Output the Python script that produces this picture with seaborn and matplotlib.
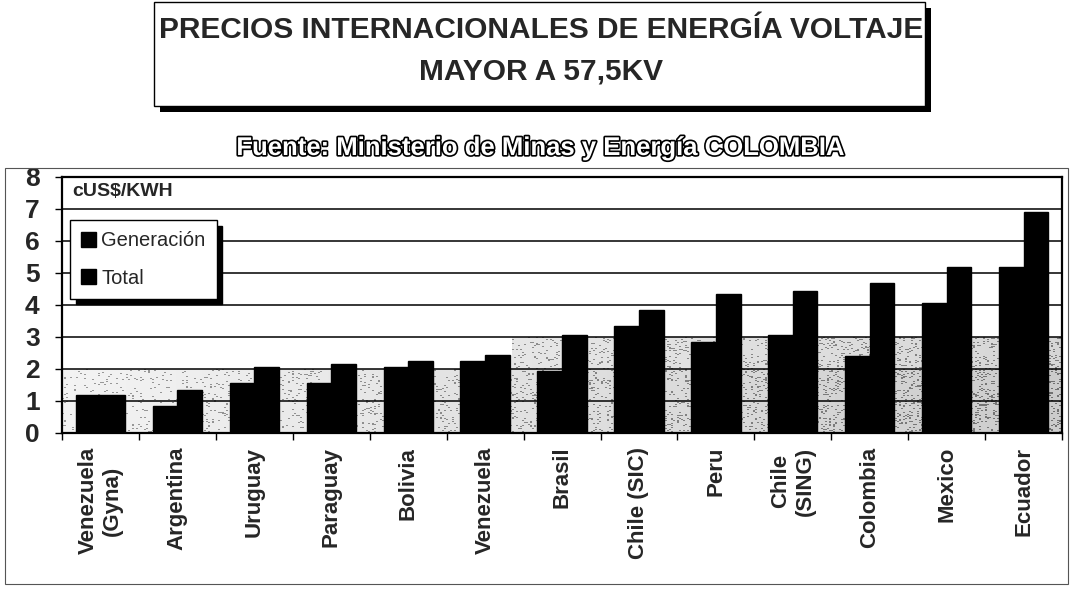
import numpy as np
import pandas as pd
import matplotlib
matplotlib.use("Agg")
import matplotlib.pyplot as plt
import matplotlib.patheffects as pe
from matplotlib.patches import Rectangle
import seaborn as sns

paises = ["Venezuela\n(Gyna)", "Argentina", "Uruguay", "Paraguay", "Bolivia",
          "Venezuela", "Brasil", "Chile (SIC)", "Peru", "Chile\n(SING)",
          "Colombia", "Mexico", "Ecuador"]
generacion = [1.2, 0.85, 1.55, 1.55, 2.05, 2.25, 1.95, 3.35, 2.85, 3.05, 2.4, 4.05, 5.2]
total = [1.2, 1.35, 2.05, 2.15, 2.25, 2.45, 3.05, 3.85, 4.35, 4.45, 4.7, 5.2, 6.9]
series = ["Generación", "Total"]

df = pd.DataFrame({
    "pais": paises * 2,
    "serie": [series[0]] * len(paises) + [series[1]] * len(paises),
    "valor": generacion + total,
})

sns.set_theme(style="white")
plt.rcParams["font.family"] = ["Liberation Sans", "DejaVu Sans"]

fig = plt.figure(figsize=(10.72, 5.89), dpi=100)
ax = fig.add_axes([0.0578, 0.265, 0.933, 0.4345])

# stippled gray background, darker towards the bottom right
n = len(paises)
xs = np.linspace(0, 1, 500)
ys = np.linspace(0, 8, 400)
X, Y = np.meshgrid(xs, ys)
limite = 2.0 + 1.0 * (X > 0.45)
dark = np.where(Y < limite, 0.07 + 0.16 * X + 0.06 * X * (Y < 2), 0.0)
rng = np.random.default_rng(3)
speckle = rng.random(dark.shape) < dark * 0.6
fondo = 1 - dark * 0.7 - speckle * 0.35
ax.imshow(fondo, extent=(-0.5, n - 0.5, 0, 8), origin="lower", cmap="gray",
          vmin=0, vmax=1, aspect="auto", zorder=0, interpolation="nearest")

sns.barplot(data=df, x="pais", y="valor", hue="serie", palette=["black", "black"],
            width=0.64, gap=0, edgecolor="black", ax=ax, zorder=3, saturation=1)

ax.set_xlim(-0.5, n - 0.5)
ax.set_ylim(0, 8)
ax.set_yticks(range(0, 9))
ax.set_yticklabels([str(i) for i in range(0, 9)], fontsize=19, fontweight="bold")
ax.set_xticks(range(n))
ax.set_xticklabels(paises, rotation=90, fontsize=16, fontweight="bold", va="top", ha="center")
ax.set_xticks(np.arange(-0.5, n), minor=True)
ax.tick_params(axis="x", which="major", length=0, pad=10)
ax.tick_params(axis="x", which="minor", length=5, width=1, color="black", direction="out", bottom=True)
ax.tick_params(axis="y", length=5, width=1, color="black", direction="out", left=True, pad=11)
ax.set_xlabel("")
ax.set_ylabel("")
for y in range(1, 8):
    ax.axhline(y, color="black", lw=1.1, zorder=1)
for s in ax.spines.values():
    s.set_color("black")
    s.set_linewidth(1.6)

ax.text(0.01, 0.975, "cUS$/KWH", transform=ax.transAxes, fontsize=14,
        fontweight="bold", va="top", ha="left", zorder=5)

leg = ax.legend(loc="upper left", bbox_to_anchor=(0.0, 0.862), fontsize=14.5,
                frameon=True, fancybox=False, edgecolor="black", framealpha=1,
                handlelength=0.75, handleheight=0.75, handletextpad=0.25,
                labelspacing=0.9, borderpad=0.55, borderaxespad=0.4,
                shadow={"color": "black", "alpha": 1, "ox": 4, "oy": -4})
leg.set_zorder(6)

# title box with shadow
W, H = 1072, 589
def box(x0, y0, x1, y1, **kw):
    return Rectangle((x0 / W, 1 - y1 / H), (x1 - x0) / W, (y1 - y0) / H,
                     transform=fig.transFigure, **kw)
fig.patches.append(box(160, 8, 931, 112, facecolor="black", edgecolor="none"))
fig.patches.append(box(154, 2, 925, 106, facecolor="white", edgecolor="black", lw=1))
fig.text(0.5045, 1 - 30 / H, "PRECIOS INTERNACIONALES DE ENERGÍA VOLTAJE",
         fontsize=21.5, fontweight="bold", ha="center", va="center")
fig.text(0.5045, 1 - 72 / H, "MAYOR A 57,5KV",
         fontsize=21.5, fontweight="bold", ha="center", va="center")

fig.text(0.505, 1 - 148 / H, "Fuente: Ministerio de Minas y Energía COLOMBIA",
         fontsize=18.5, fontweight="bold", ha="center", va="center", color="white",
         path_effects=[pe.withStroke(linewidth=2.4, foreground="black")])

# chart area border
fig.patches.append(box(5, 168, 1068, 584, facecolor="none", edgecolor="#555555", lw=0.8))

fig.savefig("out.png", dpi=100, facecolor="white")
